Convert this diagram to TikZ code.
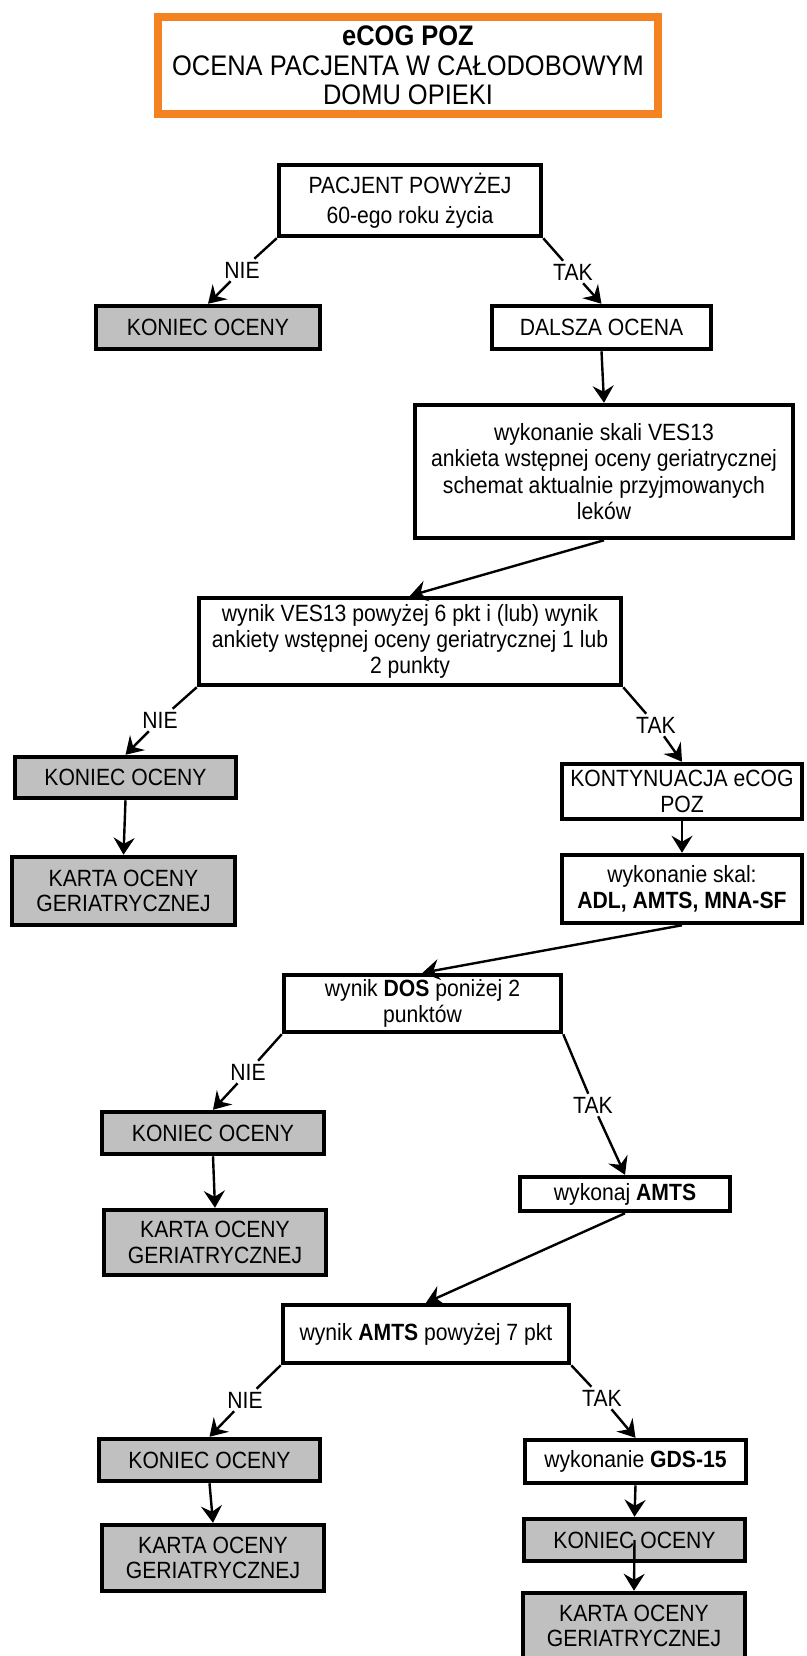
\documentclass[tikz,border=0pt]{standalone}
\usepackage{fontspec}
\setmainfont{Liberation Sans}[FakeStretch=0.9]
\usepackage{tikz}
\usetikzlibrary{arrows.meta}
\definecolor{titleorange}{RGB}{245,130,32}
\definecolor{endgray}{RGB}{192,192,192}

\begin{document}
\begin{tikzpicture}[x=1pt,y=-1pt]
	\tikzstyle{BoxStyle}   = [draw, line width=4.5pt, fill=white, inner sep=0pt, align=center, font=\fontsize{23.5}{25.5}\selectfont]
	\tikzstyle{EndStyle}   = [BoxStyle, fill=endgray]
	\tikzstyle{LabelStyle} = [inner sep=3pt, font=\fontsize{23.5}{25.5}\selectfont]
	\tikzstyle{LineStyle}  = [line width=2.4pt]
	\tikzstyle{EdgeStyle}  = [LineStyle, -{Stealth[length=17pt,width=21pt,inset=6pt]}]
	\useasboundingbox (0,0) rectangle (806,1656);
	%\draw[help lines] (0,0) grid[step=50] (806,1656);
	\node[draw=titleorange, line width=8pt, inner sep=0pt, align=center, minimum width=500pt, minimum height=97pt, font=\fontsize{28.3}{29.5}\selectfont] (title) at (408,65.5)
		{\textbf{eCOG POZ}\\OCENA PACJENTA W CAŁODOBOWYM\\DOMU OPIEKI};
	
	\node[BoxStyle, minimum width=262pt, minimum height=71pt, font=\fontsize{23.5}{30}\selectfont] (pacjent) at (410,200.5) {PACJENT POWYŻEJ\\60-ego roku życia};
	\node[EndStyle, minimum width=224pt, minimum height=43pt] (koniecA) at (208,327.5) {KONIEC OCENY};
	\node[BoxStyle, minimum width=219pt, minimum height=43pt] (dalsza) at (601.5,327.5) {DALSZA OCENA};
	\node[BoxStyle, minimum width=378pt, minimum height=133pt, font=\fontsize{23.5}{26.3}\selectfont] (ves) at (604,471.5)
		{wykonanie skali VES13\\ankieta wstępnej oceny geriatrycznej\\schemat aktualnie przyjmowanych\\leków};
	\node[BoxStyle, minimum width=422pt, minimum height=87pt, font=\fontsize{23.5}{26}\selectfont] (wynikves) at (410,641.5)
		{wynik VES13 powyżej 6 pkt i (lub) wynik\\ankiety wstępnej oceny geriatrycznej 1 lub\\2 punkty};
	
	\node[EndStyle, minimum width=221pt, minimum height=41pt] (koniecB) at (125.5,777.5) {KONIEC OCENY};
	\node[EndStyle, minimum width=223pt, minimum height=68pt] (kartaB) at (123.5,891) {KARTA OCENY\\GERIATRYCZNEJ};
	\node[BoxStyle, minimum width=240pt, minimum height=55pt] (kont) at (682,791.5) {KONTYNUACJA eCOG\\POZ};
	\node[BoxStyle, minimum width=240pt, minimum height=68pt] (skal) at (682,889) {wykonanie skal:\\\textbf{ADL, AMTS, MNA-SF}};
	
	\node[BoxStyle, minimum width=277pt, minimum height=57pt] (dos) at (422.5,1003.5) {wynik \textbf{DOS} poniżej 2\\punktów};
	\node[EndStyle, minimum width=222pt, minimum height=42pt] (koniecC) at (213,1133) {KONIEC OCENY};
	\node[EndStyle, minimum width=222pt, minimum height=65pt] (kartaC) at (215,1242.5) {KARTA OCENY\\GERIATRYCZNEJ};
	\node[BoxStyle, minimum width=210pt, minimum height=34pt] (wykamts) at (625,1194) {wykonaj \textbf{AMTS}};
	
	\node[BoxStyle, minimum width=286pt, minimum height=58pt] (wynikamts) at (426,1334) {wynik \textbf{AMTS} powyżej 7 pkt};
	\node[EndStyle, minimum width=221pt, minimum height=42pt] (koniecD) at (209.5,1460) {KONIEC OCENY};
	\node[EndStyle, minimum width=222pt, minimum height=66pt] (kartaD) at (213,1558) {KARTA OCENY\\GERIATRYCZNEJ};
	\node[BoxStyle, minimum width=221pt, minimum height=43pt] (gds) at (635.5,1461.5) {wykonanie \textbf{GDS-15}};
	\node[EndStyle, minimum width=221pt, minimum height=42pt] (koniecE) at (634.5,1540) {KONIEC OCENY};
	\node[EndStyle, minimum width=222pt, minimum height=66pt] (kartaE) at (634,1626) {KARTA OCENY\\GERIATRYCZNEJ};
	
	\node[LabelStyle] (nieA) at (242,270) {NIE}; \node[LabelStyle] (takA) at (573,272) {TAK};
	\node[LabelStyle] (nieB) at (160,720) {NIE}; \node[LabelStyle] (takB) at (656,725) {TAK};
	\node[LabelStyle] (nieC) at (248,1072) {NIE}; \node[LabelStyle] (takC) at (593,1105) {TAK};
	\node[LabelStyle] (nieD) at (245,1400) {NIE}; \node[LabelStyle] (takD) at (602,1398) {TAK};
	
	\draw[LineStyle] (pacjent.south west) -- (nieA); \draw[EdgeStyle] (nieA) -- (koniecA.north);
	\draw[LineStyle] (pacjent.south east) -- (takA); \draw[EdgeStyle] (takA) -- (dalsza.north);
	\draw[EdgeStyle] (dalsza.south) -- (ves.north); \draw[EdgeStyle] (ves.south) -- (wynikves.north);
	\draw[LineStyle] (wynikves.south west) -- (nieB); \draw[EdgeStyle] (nieB) -- (koniecB.north);
	\draw[LineStyle] (wynikves.south east) -- (takB); \draw[EdgeStyle] (takB) -- (kont.north);
	\draw[EdgeStyle] (koniecB.south) -- (kartaB.north); \draw[EdgeStyle] (kont.south) -- (skal.north);
	\draw[EdgeStyle] (skal.south) -- (dos.north);
	\draw[LineStyle] (dos.south west) -- (nieC); \draw[EdgeStyle] (nieC) -- (koniecC.north);
	\draw[LineStyle] (dos.south east) -- (takC); \draw[EdgeStyle] (takC) -- (wykamts.north);
	\draw[EdgeStyle] (koniecC.south) -- (kartaC.north); \draw[EdgeStyle] (wykamts.south) -- (wynikamts.north);
	\draw[LineStyle] (wynikamts.south west) -- (nieD); \draw[EdgeStyle] (nieD) -- (koniecD.north);
	\draw[LineStyle] (wynikamts.south east) -- (takD); \draw[EdgeStyle] (takD) -- (gds.north);
	\draw[EdgeStyle] (koniecD.south) -- (kartaD.north); \draw[EdgeStyle] (gds.south) -- (koniecE.north);
	\draw[EdgeStyle] (koniecE.center) -- (kartaE.north);
\end{tikzpicture}
\end{document}
